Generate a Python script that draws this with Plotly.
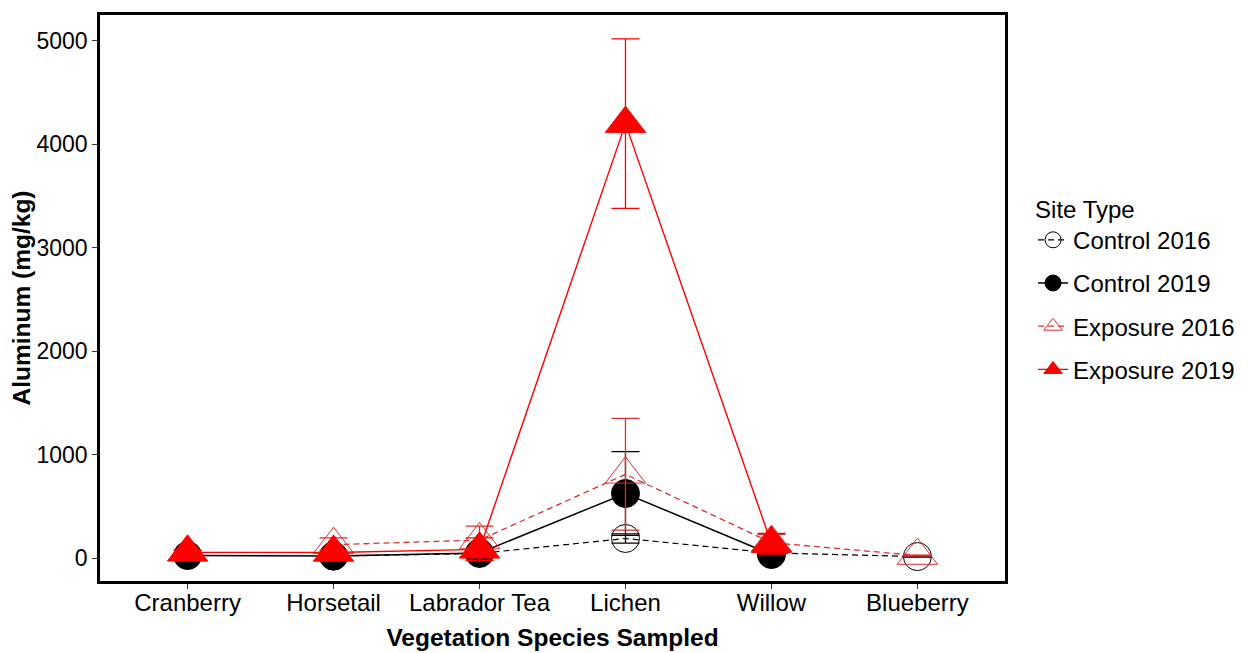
import plotly.graph_objects as go

species = ["Cranberry", "Horsetail", "Labrador Tea", "Lichen", "Willow", "Blueberry"]

control_2016 = [None, 20, 45, 190, 50, 15]
control_2016_err = [None, 10, 15, 45, 10, 5]

control_2019 = [25, 20, 50, 625, 35, None]
control_2019_err = [10, 10, 20, 405, 10, None]

exposure_2016 = [None, 130, 175, 810, 150, 25]
exposure_2016_err = [None, 65, 135, 540, 80, 5]

exposure_2019 = [56, 55, 85, 4200, 140, None]
exposure_2019_err = [20, 20, 110, 820, 100, None]

series_names = ["Control 2016", "Control 2019", "Exposure 2016", "Exposure 2019"]
y_ticks = [0, 1000, 2000, 3000, 4000, 5000]

FONT = "Liberation Sans, Arial, sans-serif"
RED = "#FF0000"
DRED = "#D83030"

fig = go.Figure()

specs = [
    (series_names[0], control_2016, control_2016_err, "black", "circle-open", 28, "dash", 1.2),
    (series_names[1], control_2019, control_2019_err, "black", "circle", 28, "solid", 1.5),
    (series_names[2], exposure_2016, exposure_2016_err, DRED, "triangle-up-open", 35, "dash", 1.3),
    (series_names[3], exposure_2019, exposure_2019_err, RED, "triangle-up", 35, "solid", 1.4),
]

for i, (name, vals, errs, color, sym, size, dash, lw) in enumerate(specs):
    fig.add_trace(go.Scatter(
        x=species, y=vals, name=name, mode="lines+markers",
        line=dict(color=color, width=lw, dash="6px,4px" if dash == "dash" else "solid"),
        marker=dict(symbol=sym, size=size, color=color, line=dict(color=color, width=1)),
        error_y=dict(type="data", array=errs, visible=True, color=color, thickness=1.3, width=14),
        connectgaps=False,
        legendgroup=f"g{i}",
    ))

fig.update_layout(
    width=1251, height=653,
    margin=dict(l=92, r=254, t=4, b=80),
    paper_bgcolor="white", plot_bgcolor="white",
    font=dict(family=FONT, size=23, color="black"),
    showlegend=True,
    legend=dict(
        title=dict(text="Site Type", font=dict(family=FONT, size=24, color="black")),
        x=1.031, xanchor="left", y=0.697, yanchor="top",
        font=dict(family=FONT, size=24, color="black"),
        tracegroupgap=9, itemsizing="trace",
        bgcolor="rgba(0,0,0,0)",
    ),
    xaxis=dict(
        type="category", categoryorder="array", categoryarray=species,
        range=[-0.6, 5.6],
        showline=True, linecolor="black", linewidth=2.5, mirror=True,
        ticks="outside", ticklen=5, tickwidth=1.2, tickcolor="#333",
        ticklabelstandoff=-7,
        showgrid=False, zeroline=False,
        tickfont=dict(family=FONT, size=24, color="black"),
        title=dict(text="<b>Vegetation Species Sampled</b>", font=dict(family=FONT, size=24.5, color="black"), standoff=15),
    ),
    yaxis=dict(
        range=[-221, 5250],
        tickvals=y_ticks,
        showline=True, linecolor="black", linewidth=2.5, mirror=True,
        ticks="outside", ticklen=5, tickwidth=1.2, tickcolor="#333",
        showgrid=False, zeroline=False,
        tickfont=dict(family=FONT, size=23, color="black"),
        title=dict(text="<b>Aluminum (mg/kg)</b>", font=dict(family=FONT, size=24.5, color="black"), standoff=6),
    ),
)

fig.write_html("out.html")
